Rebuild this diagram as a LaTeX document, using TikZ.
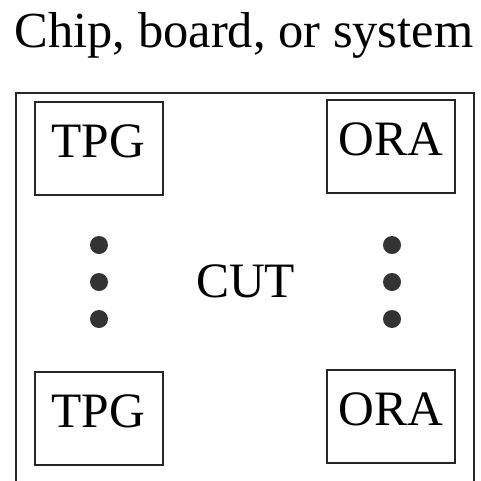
\documentclass[tikz,border=0pt]{standalone}
\usepackage{fontspec}
\setmainfont{Liberation Serif}
\begin{document}
\begin{tikzpicture}[x=1pt,y=-1pt,
  unitbox/.style={draw=black!85, line width=2pt, inner sep=0pt, anchor=base,
    minimum width=128pt, text height=55pt, text depth=38pt,
    font=\fontsize{49.5}{52}\selectfont},
  dot/.style={circle, fill=black!80, inner sep=0pt, minimum size=18pt},
  lbl/.style={anchor=base, inner sep=0pt, font=\fontsize{49.5}{52}\selectfont}]
  \useasboundingbox (0,0) rectangle (481,480);
  % title
  \node[anchor=base, inner sep=0pt, font=\fontsize{50.5}{54}\selectfont] (title) at (244,47) {Chip, board, or system};
  % enclosing frame, open at the bottom edge
  \draw[black!85, line width=2pt] (16,482) -- (16,93) -- (474,93) -- (474,482);
  % generators and analysers
  \node[unitbox] (tpg1) at (98.5,157) {TPG};
  \node[unitbox] (ora1) at (391,155) {ORA};
  \node[unitbox] (tpg2) at (98.5,427) {TPG};
  \node[unitbox] (ora2) at (391,425) {ORA};
  % circuit under test
  \node[lbl] (cut) at (245.5,297) {CUT};
  % ellipsis dots
  \foreach \y/\n in {245/a,282/b,319/c}{
    \node[dot] (l\n) at (99,\y) {};
    \node[dot] (r\n) at (392,\y) {};
  }
\end{tikzpicture}
\end{document}
